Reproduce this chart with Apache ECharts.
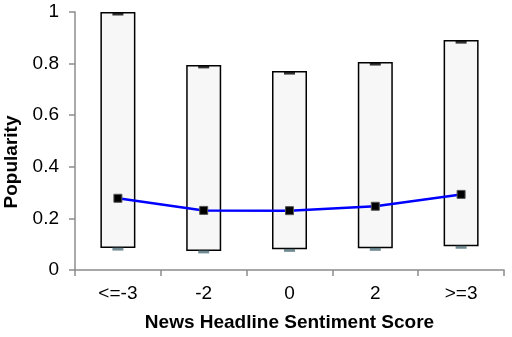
<!DOCTYPE html>
<html><head><meta charset="utf-8">
<script src="https://cdn.jsdelivr.net/npm/echarts@6/dist/echarts.min.js"></script>
<style>html,body{margin:0;padding:0;background:#fff}#c{width:512px;height:337px}</style>
</head><body><div id="c"></div>
<script>
var categories = ['<=-3', '-2', '0', '2', '>=3'];
var minValues = [0.085, 0.074, 0.080, 0.084, 0.092];
var maxValues = [1.0, 0.795, 0.771, 0.806, 0.891];
var meanValues = [0.278, 0.231, 0.230, 0.247, 0.293];
var yTicks = [0, 0.2, 0.4, 0.6, 0.8, 1];
var xTitle = 'News Headline Sentiment Score';
var yTitle = 'Popularity';

var rangeValues = maxValues.map(function (v, i) { return +(v - minValues[i]).toFixed(4); });
var font = 'Liberation Sans, Arial, sans-serif';
var chart = echarts.init(document.getElementById('c'), null, {renderer: 'canvas'});
chart.setOption({
  animation: false,
  backgroundColor: '#ffffff',
  grid: {left: 75, right: 8, top: 12, bottom: 67, containLabel: false, outerBoundsMode: 'none'},
  graphic: [{
    type: 'text', x: 12, y: 162, rotation: Math.PI / 2,
    style: {text: yTitle, font: 'bold 19px ' + font, fill: '#000', align: 'center', verticalAlign: 'middle'}
  }],
  xAxis: {
    type: 'category', data: categories, boundaryGap: true,
    name: xTitle, nameLocation: 'middle', nameGap: 43,
    nameTextStyle: {fontFamily: font, fontSize: 19, fontWeight: 'bold', color: '#000'},
    axisLine: {lineStyle: {color: '#8c8c8c', width: 1.5}},
    axisTick: {show: true, length: 6, lineStyle: {color: '#8c8c8c', width: 1.5}},
    axisLabel: {fontFamily: font, fontSize: 19, color: '#000', margin: 14},
    splitLine: {show: false}
  },
  yAxis: {
    type: 'value', min: 0, max: 1, interval: 0.2,
    axisLine: {show: true, lineStyle: {color: '#8c8c8c', width: 1.5}},
    axisTick: {show: true, inside: false, length: 6, lineStyle: {color: '#8c8c8c', width: 1.5}},
    axisLabel: {fontFamily: font, fontSize: 19, color: '#000', margin: 16,
      formatter: function (v) { var t = yTicks.filter(function (x) { return Math.abs(x - v) < 1e-6; }); return t.length ? String(t[0]) : ''; }},
    splitLine: {show: false}
  },
  series: [
    {type: 'bar', stack: 'r', data: minValues, barWidth: 35, itemStyle: {color: 'rgba(0,0,0,0)'}, silent: true},
    {type: 'bar', stack: 'r', data: rangeValues, barWidth: 35,
      itemStyle: {color: '#f7f7f7', borderColor: '#000', borderWidth: 1.5}},
    {type: 'scatter', data: maxValues, symbol: 'rect', symbolSize: [11, 3], symbolOffset: [0, 2],
      itemStyle: {color: '#000'}, z: 5},
    {type: 'scatter', data: minValues, symbol: 'rect', symbolSize: [11, 3], symbolOffset: [0, 1],
      itemStyle: {color: '#4f6e78'}, z: 5},
    {type: 'line', data: meanValues, symbol: 'rect', symbolSize: 8, showSymbol: true,
      lineStyle: {color: '#0000ff', width: 2.5},
      itemStyle: {color: '#000', borderColor: '#555', borderWidth: 1}, z: 10}
  ]
});
</script></body></html>
